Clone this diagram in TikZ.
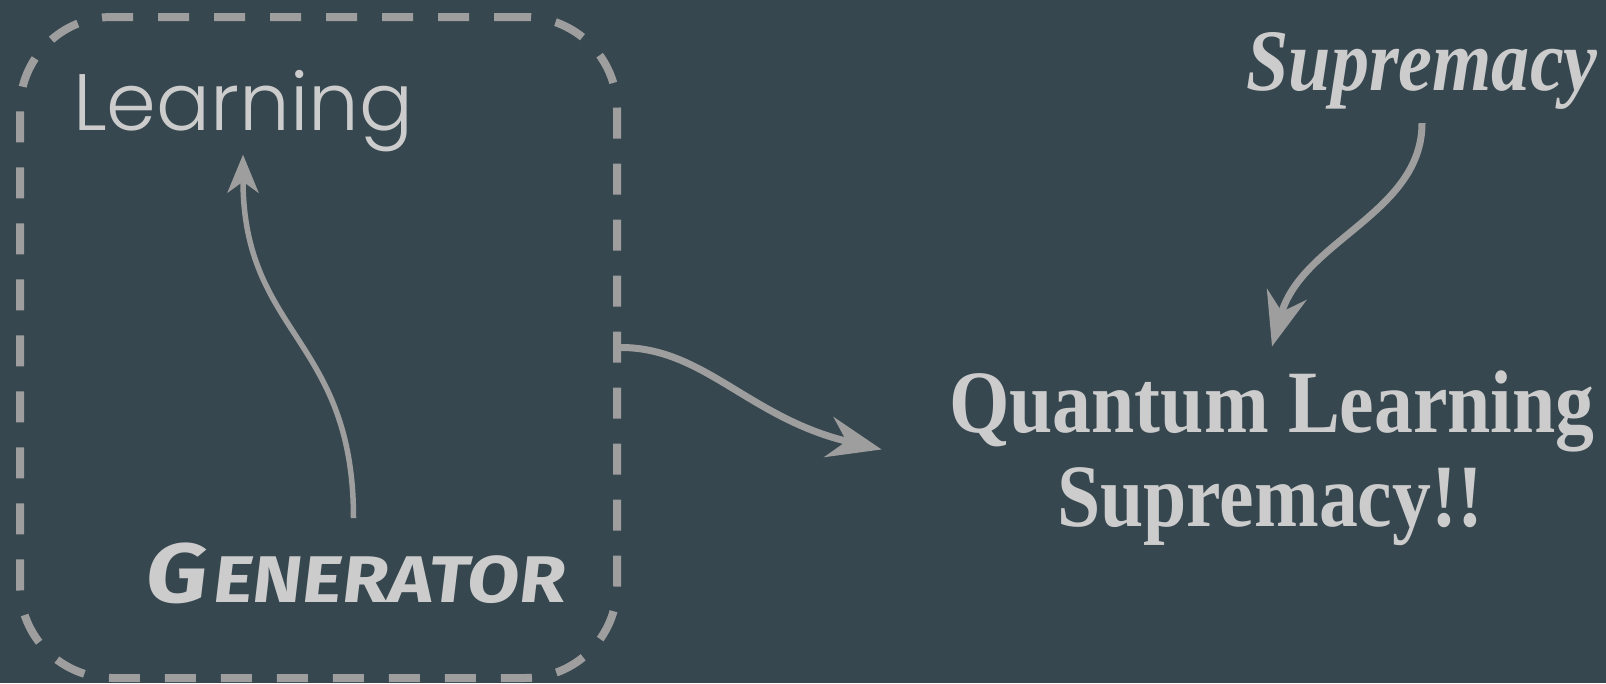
\documentclass[tikz,border=0pt]{standalone}
\usepackage{fontspec}
\usetikzlibrary{arrows.meta}
\definecolor{bg}{HTML}{37474F}
\definecolor{linegray}{HTML}{9E9E9E}
\definecolor{txt}{HTML}{CCCCCC}
\IfFontExistsTF{Poppins Light}{\newfontfamily\learnfont{Poppins Light}}{\newfontfamily\learnfont{Poppins}}
\newfontfamily\genfont[FakeStretch=1.14,FakeSlant=0.12]{Fira Sans}
\newfontfamily\supfont[FakeStretch=0.87]{Liberation Serif}
\newfontfamily\qfont[FakeStretch=0.873]{Liberation Serif}
\tikzset{
  dashbox/.style={draw=linegray, line width=8pt, dash pattern=on 31pt off 25pt,
    rounded corners=92pt, inner sep=0pt, minimum width=597pt, minimum height=661pt},
  label txt/.style={text=txt, inner sep=0pt, anchor=base},
  conn/.style={draw=linegray, line width=7pt, -{Stealth[length=54pt,width=41pt,inset=18pt]}},
  conn thin/.style={draw=linegray, line width=5.5pt, -{Stealth[length=38pt,width=31pt,inset=11pt]}},
}
\begin{document}
\begin{tikzpicture}[x=1pt,y=-1pt]
\fill[bg] (0,0) rectangle (1606,683);
\useasboundingbox (0,0) rectangle (1606,683);
\node[dashbox] (box) at (318.5,347.5) {};
\node[label txt, font=\learnfont\fontsize{80}{80}\selectfont] (learn) at (243,130) {Learning};
\node[label txt, font=\genfont\bfseries] (gen) at (353.5,602)
  {{\fontsize{84}{84}\selectfont G}\kern6pt{\fontsize{66}{66}\selectfont ENERATOR}};
\node[label txt, font=\supfont\bfseries\itshape\fontsize{87.6}{87.6}\selectfont] (sup) at (1422,90) {Supremacy};
\node[label txt, font=\qfont\bfseries\fontsize{89}{89}\selectfont] (qls1) at (1272,432) {Quantum Learning};
\node[label txt, font=\qfont\bfseries\fontsize{89}{89}\selectfont] (qls2) at (1270,526) {Supremacy!!};
\draw[conn thin] ([yshift=24pt]gen.north) .. controls +(0,-180) and +(0,180) .. ([yshift=-3pt]learn.south);
\draw[conn] (box.east) .. controls +(83,0) and +(-132,-31) .. ([xshift=-67.5pt,yshift=-38.5pt]qls1.west);
\draw[conn] ([yshift=-14pt]sup.south) .. controls +(0,90) and +(30,-106) .. ([yshift=23.6pt]qls1.north);
\end{tikzpicture}
\end{document}
